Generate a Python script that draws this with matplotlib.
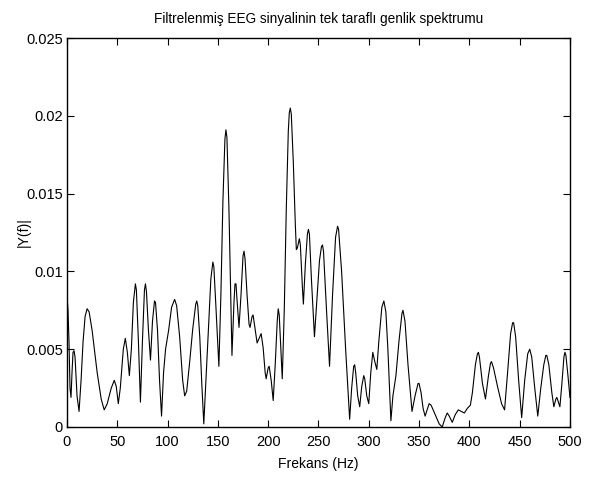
import matplotlib
matplotlib.use("Agg")
import matplotlib.pyplot as plt

# Tek taraflı genlik spektrumu
frekans = [0, 1, 2, 3, 4, 5, 6, 7, 8, 10,
           12, 14, 16, 18, 20, 22, 25, 30, 34, 37,
           40, 44, 47, 49, 51, 53, 56, 58, 60, 62,
           64, 66, 68, 69, 71, 73, 75, 77, 78, 79,
           81, 83, 85, 87, 88, 90, 92, 94, 96, 98,
           101, 104, 107, 109, 112, 115, 117, 119, 122, 125,
           128, 129, 130, 132, 134, 136, 138, 141, 143, 145,
           146, 148, 151, 153, 155, 157, 158, 159, 161, 163,
           164, 166, 167, 168, 169, 171, 173, 175, 176, 177,
           179, 181, 182, 184, 185, 187, 189, 191, 193, 195,
           197, 198, 200, 201, 203, 205, 207, 209, 210, 211,
           213, 214, 216, 218, 220, 221, 222, 223, 225, 227,
           228, 229, 231, 232, 234, 235, 237, 239, 240, 241,
           243, 246, 248, 251, 253, 254, 255, 258, 261, 264,
           267, 269, 270, 273, 277, 281, 283, 285, 286, 287,
           289, 291, 293, 295, 296, 298, 300, 302, 304, 306,
           308, 310, 313, 315, 317, 319, 322, 324, 327, 330,
           333, 334, 336, 339, 343, 346, 349, 350, 352, 354,
           356, 358, 360, 362, 366, 370, 373, 376, 378, 380,
           383, 386, 389, 392, 395, 398, 401, 403, 406, 408,
           409, 410, 413, 416, 419, 421, 422, 424, 428, 432,
           435, 438, 441, 443, 444, 446, 449, 452, 455, 458,
           460, 462, 465, 468, 471, 474, 476, 477, 479, 482,
           484, 486, 487, 488, 490, 492, 494, 495, 496, 498,
           500]

genlik = [.0085, .0075, .0055, .0025, .0019, .0035, .0048, .0049, .0045, .0020,
          .0010, .0030, .0055, .0071, .0076, .0074, .0062, .0035, .0018, .0011,
          .0015, .0025, .0030, .0026, .0015, .0025, .0050, .0057, .0048, .0033,
          .0050, .0080, .0092, .0088, .0055, .0016, .0055, .0088, .0092, .0087,
          .0062, .0043, .0068, .0081, .0080, .0062, .0030, .0007, .0035, .0050,
          .0062, .0077, .0082, .0078, .0058, .0030, .0020, .0023, .0042, .0063,
          .0079, .0081, .0078, .0058, .0028, .0002, .0028, .0068, .0095, .0106,
          .0103, .0078, .0039, .0085, .0145, .0185, .0191, .0186, .0140, .0075,
          .0046, .0080, .0092, .0092, .0082, .0064, .0085, .0110, .0113, .0108,
          .0085, .0066, .0064, .0071, .0072, .0063, .0054, .0057, .0060, .0051,
          .0035, .0031, .0038, .0039, .0030, .0017, .0040, .0068, .0076, .0072,
          .0045, .0031, .0075, .0140, .0190, .0202, .0205, .0201, .0170, .0130,
          .0114, .0115, .0121, .0117, .0090, .0079, .0105, .0124, .0127, .0124,
          .0095, .0058, .0078, .0107, .0116, .0117, .0113, .0075, .0039, .0085,
          .0122, .0129, .0127, .0100, .0050, .0005, .0025, .0039, .0040, .0035,
          .0020, .0013, .0026, .0033, .0031, .0020, .0015, .0035, .0048, .0042,
          .0037, .0055, .0077, .0081, .0074, .0050, .0004, .0020, .0033, .0055,
          .0073, .0075, .0068, .0040, .0010, .0020, .0028, .0028, .0022, .0012,
          .0007, .0011, .0015, .0014, .0008, .0002, .0000, .0006, .0009, .0007,
          .0003, .0008, .0011, .0010, .0009, .0012, .0014, .0022, .0040, .0047,
          .0048, .0045, .0028, .0018, .0033, .0041, .0042, .0038, .0026, .0015,
          .0011, .0035, .0060, .0067, .0067, .0058, .0030, .0006, .0030, .0047,
          .0050, .0045, .0025, .0007, .0025, .0040, .0046, .0046, .0040, .0022,
          .0013, .0018, .0019, .0017, .0013, .0028, .0045, .0048, .0046, .0033,
          .0019]

x_ticks = list(range(0, 501, 50))
y_ticks = [0, 0.005, 0.01, 0.015, 0.02, 0.025]
y_tick_labels = ['0', '0.005', '0.01', '0.015', '0.02', '0.025']

plt.rcParams['font.family'] = ['Liberation Sans', 'DejaVu Sans']

fig = plt.figure(figsize=(5.97, 4.78), dpi=100)
ax = fig.add_axes([0.1122, 0.1067, 0.8425, 0.8138])

ax.plot(frekans, genlik, color='black', linewidth=0.8)

ax.set_xlim(0, 500)
ax.set_ylim(0, 0.025)
ax.set_xticks(x_ticks)
ax.set_yticks(y_ticks)
ax.set_yticklabels(y_tick_labels)
ax.tick_params(direction='in', length=5, width=0.8, top=True, right=True,
               labelsize=10.5)
ax.tick_params(axis='x', pad=6)
ax.tick_params(axis='y', pad=3)
for s in ax.spines.values():
    s.set_linewidth(1.0)

ax.set_title('Filtrelenmiş EEG sinyalinin tek taraflı genlik spektrumu', fontsize=9.8, pad=11)
ax.set_xlabel('Frekans (Hz)', fontsize=10)
ax.set_ylabel('|Y(f)|', fontsize=10)
# eksen etiketlerinin yeri (eksen koordinatı)
ax.xaxis.set_label_coords(0.5, -0.095)
ax.yaxis.set_label_coords(-0.086, 0.5)
ax.yaxis.label.set_verticalalignment('center')
ax.xaxis.label.set_verticalalignment('center')

fig.savefig('out.png', dpi=100)
